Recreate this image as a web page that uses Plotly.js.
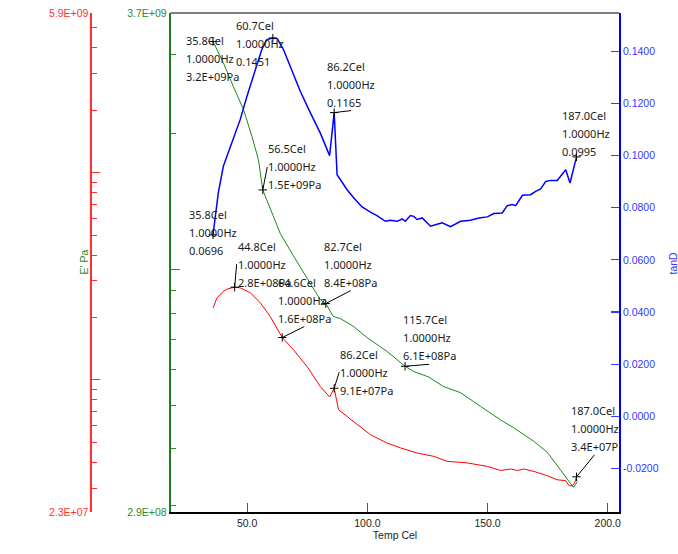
<!DOCTYPE html>
<html><head><meta charset="utf-8">
<script src="https://cdn.plot.ly/plotly-3.0.1.min.js"></script>
<style>html,body{margin:0;padding:0;background:#fff}#chart{width:678px;height:554px}</style>
</head><body><div id="chart"></div>
<script>
// ---- data ----
const tempBlue = [35.8, 36.7, 38.0, 40.1, 43.6, 47.1, 49.9, 53.3, 56.1, 58.2, 60.7, 62.6, 65.1, 67.9, 72.1, 76.3, 80.4, 84.3, 86.2, 87.4, 91.5, 94.3, 97.8, 101.3, 104.0, 107.5, 109.6, 112.4, 114.5, 115.8, 117.9, 119.3, 120.7, 122.8, 126.3, 128.3, 131.1, 134.6, 138.8, 142.9, 146.4, 149.9, 152.6, 156.1, 158.2, 160.3, 161.7, 164.5, 167.9, 170.0, 172.1, 174.2, 176.3, 179.0, 182.5, 184.3, 187.0];
const tanD = [0.0696, 0.0755, 0.0857, 0.0959, 0.1049, 0.1138, 0.1227, 0.1330, 0.1407, 0.1445, 0.1451, 0.1448, 0.1407, 0.1343, 0.1247, 0.1164, 0.1087, 0.1000, 0.1165, 0.0927, 0.0870, 0.0838, 0.0803, 0.0783, 0.0770, 0.0748, 0.0752, 0.0748, 0.0757, 0.0748, 0.0770, 0.0767, 0.0755, 0.0761, 0.0729, 0.0735, 0.0742, 0.0727, 0.0748, 0.0752, 0.0761, 0.0765, 0.0778, 0.0780, 0.0808, 0.0812, 0.0808, 0.0848, 0.0850, 0.0863, 0.0872, 0.0901, 0.0905, 0.0905, 0.0946, 0.0895, 0.0995];

const tempGreen = [35.8, 40.1, 44.3, 48.5, 52.0, 54.7, 56.5, 59.6, 63.8, 69.3, 76.3, 80.4, 82.7, 85.8, 87.4, 88.8, 94.2, 99.9, 108.2, 115.7, 119.2, 125.4, 131.7, 138.8, 147.1, 155.4, 160.8, 169.2, 174.9, 180.4, 183.8, 185.7, 187.4];
const modGreen = [3.2e9, 2.87e9, 2.54e9, 2.26e9, 1.97e9, 1.75e9, 1.5e9, 1.36e9, 1.20e9, 1.07e9, 9.33e8, 8.57e8, 8.4e8, 7.87e8, 7.82e8, 7.78e8, 7.48e8, 7.06e8, 6.58e8, 6.1e8, 5.94e8, 5.78e8, 5.50e8, 5.33e8, 4.97e8, 4.64e8, 4.46e8, 4.16e8, 3.93e8, 3.60e8, 3.39e8, 3.29e8, 3.39e8];

const tempRed = [35.8, 37.4, 40.0, 42.0, 44.8, 47.1, 51.3, 55.4, 59.6, 64.6, 69.2, 74.9, 80.4, 84.3, 86.2, 88.0, 91.5, 97.1, 101.3, 108.2, 113.8, 120.7, 127.6, 133.2, 141.5, 149.9, 155.4, 159.6, 162.4, 165.1, 169.3, 174.9, 179.0, 182.5, 183.9, 185.3, 186.3, 187.0];
const modRed = [2.22e8, 2.48e8, 2.67e8, 2.75e8, 2.8e8, 2.78e8, 2.63e8, 2.36e8, 2.02e8, 1.6e8, 1.40e8, 1.16e8, 9.29e7, 8.26e7, 9.1e7, 7.17e7, 6.66e7, 5.96e7, 5.43e7, 4.95e7, 4.69e7, 4.43e7, 4.27e7, 4.04e7, 3.97e7, 3.82e7, 3.65e7, 3.71e7, 3.65e7, 3.71e7, 3.61e7, 3.44e7, 3.29e7, 3.26e7, 3.08e7, 3.08e7, 3.20e7, 3.4e7];

const freqLabel = '1.0000Hz';
const xTickVals = [50, 100, 150, 200];
const xRange = [18.2, 204.8];
const blueTickVals = [-0.02, 0, 0.02, 0.04, 0.06, 0.08, 0.10, 0.12, 0.14];
const blueRange = [-0.0367, 0.1547];
const greenRange = [2.9e8, 3.7e9];
const greenMajor = [1e9];
const greenMinor = [3e8, 4e8, 5e8, 6e8, 7e8, 8e8, 9e8, 2e9, 3e9];
const redRange = [2.3e7, 5.9e9];
const redMajor = [1e8, 1e9];
const redMinor = [3e7, 4e7, 5e7, 6e7, 7e7, 8e7, 9e7, 2e8, 3e8, 4e8, 5e8, 6e8, 7e8, 8e8, 9e8, 2e9, 3e9, 4e9, 5e9];

// annotated points: series, temperature
const marks = [
  {s:'green', t:35.8,  arrow:false, dx:-28, dy:17},
  {s:'blue',  t:60.7,  arrow:false, dx:-38, dy:5},
  {s:'blue',  t:86.2,  arrow:true, xa:'center', ya:'bottom', ax:17, ay:-2},
  {s:'blue',  t:187.0, arrow:false, dx:-16, dy:-23},
  {s:'green', t:56.5,  arrow:true, xa:'left', ya:'middle', ax:4.5, ay:-23},
  {s:'blue',  t:35.8,  arrow:false, dx:-25, dy:-2},
  {s:'red',   t:44.8,  arrow:true, xa:'left', ya:'middle', ax:2, ay:-23},
  {s:'red',   t:64.6,  arrow:true, xa:'center', ya:'bottom', ax:22, ay:-11},
  {s:'green', t:82.7,  arrow:true, xa:'center', ya:'bottom', ax:25, ay:-13},
  {s:'green', t:115.7, arrow:true, xa:'center', ya:'bottom', ax:24, ay:-2},
  {s:'red',   t:86.2,  arrow:true, xa:'left', ya:'middle', ax:5, ay:-16},
  {s:'red',   t:187.0, arrow:true, xa:'center', ya:'bottom', ax:18, ay:-22, cut:1}
];

// ---- helpers ----
function fmtE(v){
  let e = Math.floor(Math.log10(v)); let m = v/Math.pow(10,e);
  if (Math.round(m*10)/10 >= 10){ m/=10; e+=1; }
  return m.toFixed(1)+'E'+(e<0?'-':'+')+String(Math.abs(e)).padStart(2,'0');
}
const series = {
  green: {x:tempGreen, y:modGreen, ref:'y',  log:true,  fmt:v=>fmtE(v)+'Pa'},
  red:   {x:tempRed,   y:modRed,   ref:'y2', log:true,  fmt:v=>fmtE(v)+'Pa'},
  blue:  {x:tempBlue,  y:tanD,     ref:'y3', log:false, fmt:v=>v.toFixed(4)}
};
const cGreen='#1a8a1a', cGreenTxt='#2e8b2e', cRed='#ff0000', cRedTxt='#ff3030', cBlue='#0000ff', cBlueTxt='#3636ff';

const traces = [
  {x:tempGreen, y:modGreen, yaxis:'y',  type:'scatter', mode:'lines', line:{color:cGreen, width:1}},
  {x:tempRed,   y:modRed,   yaxis:'y2', type:'scatter', mode:'lines', line:{color:cRed, width:1}},
  {x:tempBlue,  y:tanD,     yaxis:'y3', type:'scatter', mode:'lines', line:{color:cBlue, width:1.5}}
];

const annotations = [];
marks.forEach(m => {
  const S = series[m.s];
  const i = S.x.indexOf(m.t);
  const v = S.y[i];
  let last = S.fmt(v);
  if (m.cut) last = last.slice(0, last.length - m.cut);
  const lines = [S.x[i].toFixed(1)+'Cel', freqLabel, last];
  const txt = lines.map(l => '<span style="font-size:11px">'+l+'</span>').join('<br>');
  const a = {xref:'x', yref:S.ref, x:S.x[i], y:S.log?Math.log10(v):v, text:txt, align:'left',
             font:{family:'Noto Sans, sans-serif', size:14, color:'#1a1a1a'}, borderpad:0};
  if (m.arrow){
    Object.assign(a, {showarrow:true, arrowhead:0, arrowwidth:1, arrowcolor:'#000', ax:m.ax, ay:m.ay,
                      xanchor:m.xa, yanchor:m.ya, standoff:0});
  } else {
    Object.assign(a, {showarrow:false, xanchor:'left', yanchor:'middle', xshift:m.dx, yshift:-m.dy});
  }
  annotations.push(a);
  traces.push({x:[S.x[i]], y:[v], yaxis:S.ref, type:'scatter', mode:'markers',
               marker:{symbol:'cross-thin', size:6, line:{width:1, color:'#000'}}});
});

annotations.push({xref:'paper', yref:'paper', x:83/678, y:0.5, xanchor:'center', yanchor:'middle', text:"E' Pa", showarrow:false, textangle:-90,
                  font:{family:'Liberation Sans, Arial, sans-serif', size:10.5, color:cGreenTxt}});
annotations.push({xref:'paper', yref:'paper', x:673/678, y:0.498, xanchor:'center', yanchor:'middle', text:'tanD', showarrow:false, textangle:-90,
                  font:{family:'Liberation Sans, Arial, sans-serif', size:10.5, color:cBlueTxt}});

const x0 = 170.7/678, x1 = 619.3/678, redPos = 90.5/678;
const layout = {
  width:678, height:554, margin:{l:0, r:0, t:13, b:42},
  paper_bgcolor:'#fff', plot_bgcolor:'#fff', showlegend:false,
  font:{family:'Liberation Sans, Arial, sans-serif', size:10.5, color:'#222'},
  xaxis:{domain:[x0, x1], range:xRange, tickvals:xTickVals, ticktext:xTickVals.map(v=>v.toFixed(1)),
         ticks:'inside', ticklen:9, tickwidth:1.2, tickcolor:'#555', showline:true, linecolor:'#000', linewidth:1.5,
         showgrid:false, zeroline:false, tickfont:{size:10.5, color:'#222'}, ticklabelstandoff:1,
         title:{text:'Temp Cel', font:{size:10.5, color:'#222'}, standoff:3}},
  yaxis:{type:'log', range:greenRange.map(Math.log10),
         tickvals:[greenRange[0], ...greenMajor, greenRange[1]],
         ticktext:[fmtE(greenRange[0]), ...greenMajor.map(()=>''), fmtE(greenRange[1])],
         ticks:'inside', ticklen:9, tickwidth:1, tickcolor:cGreenTxt, showline:true, linecolor:'#1e781e', linewidth:2,
         showgrid:false, zeroline:false, tickfont:{color:cGreenTxt, size:10.5},
         minor:{tickvals:greenMinor, ticks:'inside', ticklen:5, tickwidth:1, tickcolor:cGreenTxt, showgrid:false}},
  yaxis2:{type:'log', overlaying:'y', anchor:'free', position:redPos, side:'left', range:redRange.map(Math.log10),
         tickvals:[redRange[0], ...redMajor, redRange[1]],
         ticktext:[fmtE(redRange[0]), ...redMajor.map(()=>''), fmtE(redRange[1])],
         ticks:'inside', ticklen:8.6, tickwidth:1, tickcolor:cRedTxt, showline:true, linecolor:cRedTxt, linewidth:1.2,
         showgrid:false, zeroline:false, tickfont:{color:cRedTxt, size:10.5},
         minor:{tickvals:redMinor, ticks:'inside', ticklen:5.5, tickwidth:1, tickcolor:cRedTxt, showgrid:false}},
  yaxis3:{overlaying:'y', anchor:'x', side:'right', range:blueRange, tickvals:blueTickVals,
         ticktext:blueTickVals.map(v=>v.toFixed(4)),
         ticks:'inside', ticklen:8.5, tickwidth:1.2, tickcolor:cBlueTxt, showline:true, linecolor:cBlue, linewidth:1.5,
         showgrid:false, zeroline:false, tickfont:{color:cBlueTxt, size:10.5}},
  shapes:[
    {type:'line', xref:'paper', yref:'paper', x0:x0, x1:x1, y0:1, y1:1, line:{color:'#555', width:1.5}},
    {type:'line', xref:'paper', yref:'paper', x0:redPos, x1:redPos, y0:0, y1:1, line:{color:cRedTxt, width:1.2}}
  ],
  annotations:annotations
};

Plotly.newPlot('chart', traces, layout, {displayModeBar:false, staticPlot:true});
</script>
</body></html>
